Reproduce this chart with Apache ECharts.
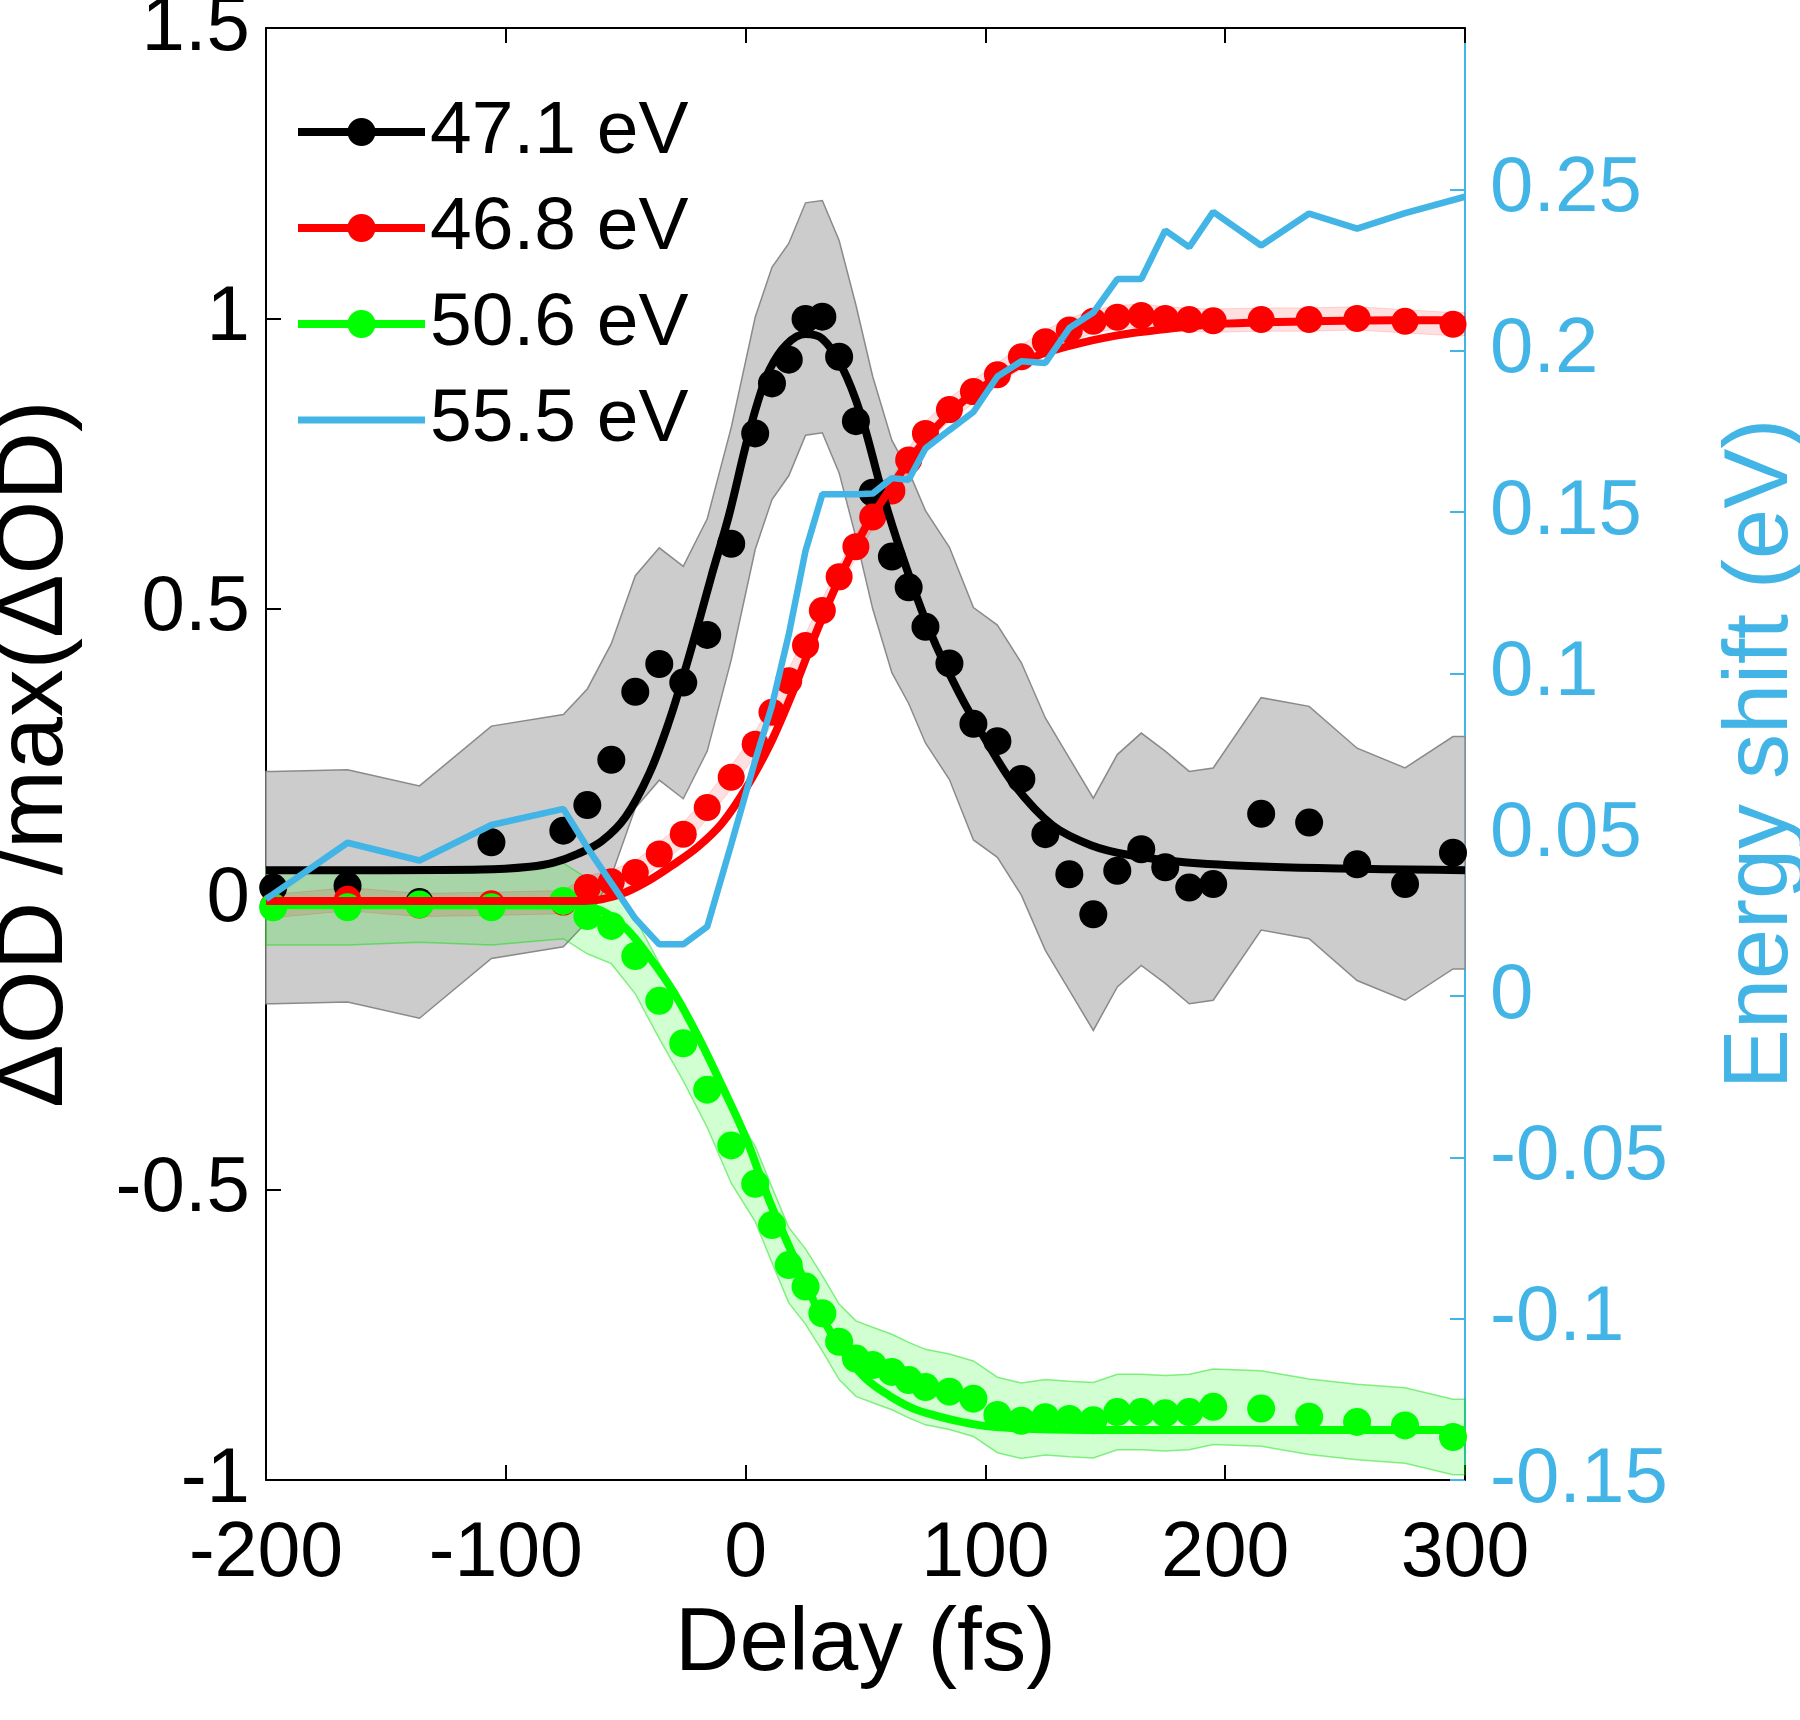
<!DOCTYPE html>
<html><head><meta charset="utf-8">
<script src="https://cdn.jsdelivr.net/npm/echarts@6/dist/echarts.min.js"></script>
<style>html,body{margin:0;padding:0;background:#fff}#c{width:1800px;height:1720px}</style>
</head><body><div id="c"></div>
<script>
// ---- data ----
const delays = [-197, -166, -136, -106, -76, -66, -56, -46, -36, -26, -16, -6, 4, 11, 18, 25, 32, 39, 46, 53, 61, 68, 75, 85, 95, 105, 115, 125, 135, 145, 155, 165, 175, 185, 195, 215, 235, 255, 275, 295];
const od471 = [0.02, 0.023, -0.005, 0.098, 0.118, 0.162, 0.24, 0.357, 0.405, 0.373, 0.455, 0.612, 0.802, 0.888, 0.929, 0.999, 1.003, 0.934, 0.823, 0.70, 0.59, 0.537, 0.469, 0.406, 0.302, 0.272, 0.207, 0.112, 0.043, -0.026, 0.049, 0.086, 0.055, 0.020, 0.026, 0.147, 0.132, 0.060, 0.026, 0.080];
const od468 = [-0.012, 0.0, -0.01, -0.008, -0.005, 0.02, 0.03, 0.046, 0.078, 0.112, 0.158, 0.21, 0.267, 0.322, 0.376, 0.437, 0.497, 0.555, 0.607, 0.658, 0.703, 0.756, 0.802, 0.843, 0.874, 0.903, 0.934, 0.96, 0.98, 0.995, 1.002, 1.005, 1.0, 0.998, 0.996, 0.998, 0.998, 1.0, 0.995, 0.99];
const od506 = [-0.014, -0.014, -0.009, -0.014, -0.003, -0.029, -0.046, -0.098, -0.175, -0.248, -0.328, -0.424, -0.49, -0.561, -0.63, -0.667, -0.713, -0.762, -0.791, -0.802, -0.814, -0.828, -0.84, -0.848, -0.86, -0.888, -0.898, -0.892, -0.895, -0.897, -0.883, -0.883, -0.885, -0.883, -0.874, -0.877, -0.891, -0.9, -0.906, -0.926];

// energy shift (right axis); its trace runs from axis edge to axis edge
const shiftDelays = [-200, -166, -136, -106, -76, -66, -56, -46, -36, -26, -16, -6, 4, 11, 18, 25, 32, 39, 46, 53, 61, 68, 75, 85, 95, 105, 115, 125, 135, 145, 155, 165, 175, 185, 195, 215, 235, 255, 275, 300];
const shift555 = [0.030, 0.0475, 0.042, 0.053, 0.058, 0.046, 0.035, 0.024, 0.016, 0.016, 0.0215, 0.047, 0.073, 0.09, 0.112, 0.138, 0.1555, 0.1555, 0.1555, 0.1557, 0.1605, 0.160, 0.1697, 0.1754, 0.181, 0.192, 0.1967, 0.1962, 0.207, 0.2118, 0.2222, 0.2222, 0.2373, 0.2321, 0.243, 0.2326, 0.2425, 0.2378, 0.2426, 0.2477];

// error-band half widths read from the shaded regions; bands span the full x range
const err471 = 0.2;
const err468 = 0.02;
const err506 = 0.065;
const bandStart = -200, bandEnd = 300;

// fitted curves
const fit471T = [-200, -150, -110, -90, -80, -70, -60, -50, -40, -32, -25, -19, -14, -7, 0, 5, 10, 17, 25, 32, 40, 48, 57, 65, 77, 89, 100, 112, 128, 144, 160, 184, 224, 300];
const fit471V = [0.05, 0.05, 0.051, 0.056, 0.063, 0.078, 0.1, 0.142, 0.218, 0.305, 0.398, 0.485, 0.56, 0.66, 0.78, 0.855, 0.912, 0.955, 0.973, 0.965, 0.918, 0.835, 0.7, 0.595, 0.46, 0.355, 0.275, 0.197, 0.127, 0.093, 0.076, 0.063, 0.055, 0.05];
const fit468T = [-200, -70, -60, -50, -40, -30, -20, -10, 0, 10, 20, 30, 40, 50, 60, 70, 80, 90, 100, 110, 120, 130, 140, 150, 160, 170, 180, 200, 250, 300];
const fit468V = [-0.003, -0.003, 0.0, 0.012, 0.033, 0.06, 0.09, 0.13, 0.19, 0.265, 0.36, 0.465, 0.56, 0.64, 0.705, 0.765, 0.815, 0.855, 0.885, 0.91, 0.933, 0.947, 0.958, 0.967, 0.974, 0.979, 0.984, 0.991, 0.996, 0.997];
const fit506T = [-200, -70, -60, -50, -40, -30, -20, -10, 0, 10, 20, 30, 40, 50, 60, 70, 80, 90, 100, 120, 150, 300];
const fit506V = [-0.01, -0.011, -0.02, -0.05, -0.1, -0.16, -0.235, -0.32, -0.41, -0.52, -0.615, -0.705, -0.775, -0.825, -0.855, -0.877, -0.89, -0.9, -0.907, -0.912, -0.914, -0.914];

const xTicks = [-200, -100, 0, 100, 200, 300];
const legendNames = ['47.1 eV', '46.8 eV', '50.6 eV', '55.5 eV'];

// ---- styling ----
const FONT = 'Liberation Sans, Arial, Helvetica, sans-serif';
const BLACK = '#000000', RED = '#ff0000', GREEN = '#00ff00', BLUE = '#42b4e6';
const ICON_DOT = 'path://M0,10 L56,10 L56,18 L0,18 Z M71,10 L127,10 L127,18 L71,18 Z M49.5,14 A14,14 0 1,1 77.5,14 A14,14 0 1,1 49.5,14 Z';
const ICON_LINE = 'path://M0,0 L0.2,0 L0.2,0.2 Z M0,10.5 L127,10.5 L127,17.5 L0,17.5 Z M126.8,27.8 L127,27.8 L127,28 Z';

const zip = (a, b) => a.map((t, i) => [t, b[i]]);

function band(vals, err, fill, stroke, lw) {
  return {
    type: 'custom', silent: true, xAxisIndex: 0, yAxisIndex: 0,
    data: delays.map((t, i) => [t, vals[i] - err, vals[i] + err]),
    encode: { x: 0, y: [1, 2] },
    renderItem: function (params, api) {
      if (params.dataIndex !== 0) return null;
      const n = delays.length;
      const up = [api.coord([bandStart, vals[0] + err])];
      const lo = [api.coord([bandStart, vals[0] - err])];
      for (let i = 0; i < n; i++) {
        up.push(api.coord([delays[i], vals[i] + err]));
        lo.push(api.coord([delays[i], vals[i] - err]));
      }
      up.push(api.coord([bandEnd, vals[n - 1] + err]));
      lo.push(api.coord([bandEnd, vals[n - 1] - err]));
      return { type: 'polygon', shape: { points: up.concat(lo.reverse()) },
               style: { fill: fill, stroke: stroke, lineWidth: lw } };
    }
  };
}

const axisCommon = {
  axisLine: { show: true, onZero: false, lineStyle: { color: BLACK, width: 2 } },
  axisTick: { show: true, inside: true, length: 15, lineStyle: { color: BLACK, width: 2 } },
  splitLine: { show: false }
};

const option = {
  animation: false,
  backgroundColor: '#ffffff',
  textStyle: { fontFamily: FONT },
  grid: { left: 266, right: 335, top: 28, bottom: 240, outerBoundsMode: 'none', containLabel: false },
  legend: {
    orient: 'vertical', left: 298, top: 92, padding: 0,
    itemWidth: 127, itemHeight: 28, itemGap: 16, selectedMode: false,
    textStyle: { fontSize: 75, color: BLACK, lineHeight: 80, fontFamily: FONT },
    itemStyle: { borderWidth: 0, opacity: 1 },
    data: [
      { name: legendNames[0], icon: ICON_DOT, itemStyle: { color: BLACK, borderWidth: 0, opacity: 1 } },
      { name: legendNames[1], icon: ICON_DOT, itemStyle: { color: RED, borderWidth: 0, opacity: 1 } },
      { name: legendNames[2], icon: ICON_DOT, itemStyle: { color: GREEN, borderWidth: 0, opacity: 1 } },
      { name: legendNames[3], icon: ICON_LINE, itemStyle: { color: BLUE, borderWidth: 0, opacity: 1 } }
    ]
  },
  xAxis: [
    Object.assign({}, axisCommon, {
      type: 'value', position: 'bottom', min: xTicks[0], max: xTicks[xTicks.length - 1], interval: 100,
      axisLabel: { fontSize: 77, color: BLACK, margin: 36, fontFamily: FONT },
      name: 'Delay (fs)', nameLocation: 'middle', nameGap: 121,
      nameTextStyle: { fontSize: 89, color: BLACK, fontFamily: FONT }
    }),
    Object.assign({}, axisCommon, {
      type: 'value', position: 'top', min: xTicks[0], max: xTicks[xTicks.length - 1], interval: 100,
      axisLabel: { show: false }
    })
  ],
  yAxis: [
    Object.assign({}, axisCommon, {
      type: 'value', position: 'left', min: -1, max: 1.5, interval: 0.5,
      axisLabel: { fontSize: 78, color: BLACK, margin: 16, fontFamily: FONT },
      name: 'ΔOD /max(ΔOD)', nameLocation: 'middle', nameGap: 183, nameRotate: 90,
      nameTextStyle: { fontSize: 95, color: BLACK, fontFamily: FONT }
    }),
    {
      type: 'value', position: 'right', min: -0.15, max: 0.3, interval: 0.05,
      axisLine: { show: true, onZero: false, lineStyle: { color: BLUE, width: 2 } },
      axisTick: { show: true, inside: true, length: 15, lineStyle: { color: BLUE, width: 2 } },
      splitLine: { show: false },
      axisLabel: { fontSize: 78, color: BLUE, margin: 25, showMaxLabel: false, fontFamily: FONT },
      name: 'Energy shift (eV)', nameLocation: 'middle', nameGap: 252, nameRotate: 90,
      nameTextStyle: { fontSize: 90, color: BLUE, fontFamily: FONT }
    }
  ],
  series: [
    band(od471, err471, '#cccccc', '#8a8a8a', 1.5),
    band(od506, err506, 'rgba(0,255,0,0.18)', 'rgba(0,220,0,0.45)', 1.5),
    band(od468, err468, 'rgba(255,0,0,0.12)', 'rgba(255,0,0,0.15)', 1),
    { type: 'line', name: '47.1 eV fit', silent: true, data: zip(fit471T, fit471V), smooth: 0.35,
      showSymbol: false, symbol: 'none', lineStyle: { color: BLACK, width: 8 } },
    { type: 'scatter', name: legendNames[0], silent: true, data: zip(delays, od471), symbolSize: 28,
      itemStyle: { color: BLACK, opacity: 1 } },
    { type: 'scatter', name: legendNames[1], silent: true, data: zip(delays, od468), symbolSize: 27,
      itemStyle: { color: RED, opacity: 1 } },
    { type: 'scatter', name: legendNames[2], silent: true, data: zip(delays, od506), symbolSize: 28,
      itemStyle: { color: GREEN, opacity: 1 } },
    { type: 'line', name: '50.6 eV fit', silent: true, data: zip(fit506T, fit506V), smooth: 0.35,
      showSymbol: false, symbol: 'none', lineStyle: { color: GREEN, width: 8 } },
    { type: 'line', name: '46.8 eV fit', silent: true, data: zip(fit468T, fit468V), smooth: 0.35,
      showSymbol: false, symbol: 'none', lineStyle: { color: RED, width: 8 } },
    { type: 'line', name: legendNames[3], silent: true, yAxisIndex: 1, data: zip(shiftDelays, shift555),
      showSymbol: false, symbol: 'none', itemStyle: { color: BLUE }, lineStyle: { color: BLUE, width: 6.5 } }
  ]
};

const chart = echarts.init(document.getElementById('c'), null, { renderer: 'canvas', width: 1800, height: 1720 });
chart.setOption(option);
</script>
</body></html>
